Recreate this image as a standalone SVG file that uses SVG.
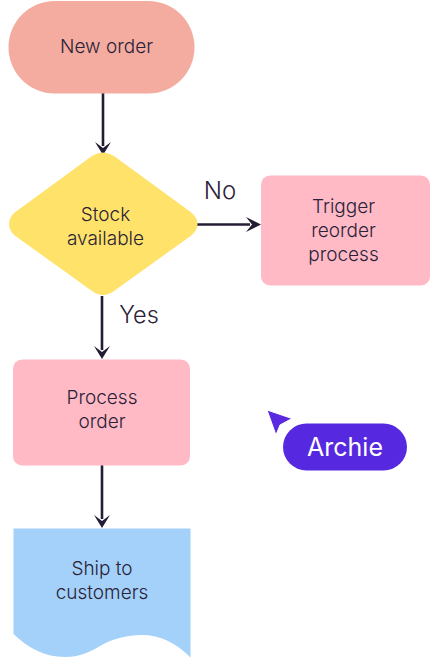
<svg xmlns="http://www.w3.org/2000/svg" width="431" height="658" viewBox="0 0 431 658">
<style>
text{font-family:"Inter","Liberation Sans",sans-serif;fill:#2b2238;text-anchor:middle;font-size:19px;font-weight:300;letter-spacing:0}
.e{fill:none;stroke:#241c35;stroke-width:2.600}
.h{fill:#241c35}
</style>
<rect width="431" height="658" fill="#fff"/>
<g id="connectors">
<path class="e" d="M103 92V146"/><path class="h" d="M95 142L103 148L111 142L103 155Z"/>
<path class="e" d="M197 224.500H250"/><path class="h" d="M246 217L252 224.500L246 232L261 224.500Z"/>
<path class="e" d="M102 296V350"/><path class="h" d="M94 346L102 352L110 346L102 359Z"/>
<path class="e" d="M102 465V519"/><path class="h" d="M94 515L102 521L110 515L102 528Z"/>
</g>
<g id="new-order"><rect x="8.500" y="1" width="186" height="92.500" rx="46.200" fill="#f5aca0"/><text x="106.500" y="52.500">New order</text></g>
<g id="stock"><path d="M92 156Q103 149 114 156L192 213Q203 224 192 235L114 291Q103 299 92 291L14 235Q4 224 14 213Z" fill="#ffe26a"/><text x="105.500" y="220.500">Stock</text><text x="105.500" y="244.500">available</text></g>
<g id="trigger"><rect x="261" y="175.500" width="169" height="110" rx="9" fill="#ffbac6"/><text x="343.500" y="212.500">Trigger</text><text x="343.500" y="236.500">reorder</text><text x="343.500" y="260.500">process</text></g>
<g id="process"><rect x="13" y="359.500" width="177" height="106" rx="9" fill="#ffbac6"/><text x="102" y="403.500">Process</text><text x="102" y="427.500">order</text></g>
<g id="ship"><path d="M13.500 528.500H190.500V657.500C176 643 160 635 142 635C126 635 112 639 100 646C90 652 80 657 65 657C45 657 28 648 13.500 634Z" fill="#a3d1fa"/><text x="102" y="575">Ship to</text><text x="102" y="599">customers</text></g>
<g id="no-label"><text x="220" y="199" style="font-size:24px">No</text></g>
<g id="yes-label"><text x="139" y="323" style="font-size:23.500px">Yes</text></g>
<g id="archie"><path d="M267 410L292 418.500L280 425L276 435Z" fill="#5a2ae0" stroke="#fff" stroke-width="1"/><rect x="283" y="423.500" width="124" height="47" rx="23.500" fill="#5628e0"/><text x="345" y="456" style="font-size:25px;font-weight:400;fill:#fff">Archie</text></g>
</svg>
